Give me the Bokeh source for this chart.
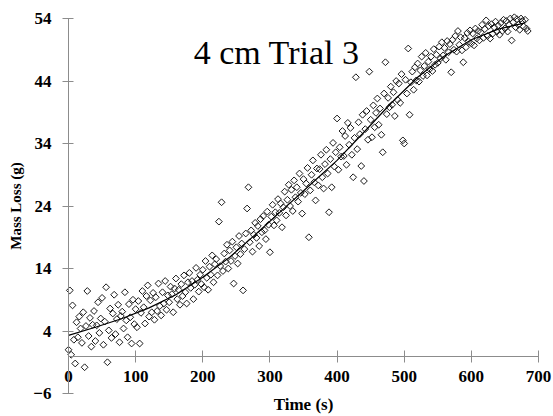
import numpy as np
from bokeh.plotting import figure
from bokeh.models import FixedTicker, Range1d, Label
from bokeh.embed import file_html
from bokeh.resources import INLINE

# Measured mass loss, sampled every 2 s (time in seconds)
time_s = list(range(0, 686, 2))
mass_loss_g = [
    1.0, 10.5, 0.2, 8.1, 2.6,  -1.2, 5.4, 3.0, 6.3, 4.4,
    2.1, 7.0, -1.8, 4.8, 10.4,  3.2, 6.1, 1.5, 5.0, 7.2,
    2.4, 4.9, 8.6, 3.7, 6.0,  9.3, 1.8, 5.5, 11.0, -1.0,
    4.1, 7.6, 2.9, 6.8, 9.8,  3.5, 5.9, 8.2, 2.2, 6.4,
    7.1, 4.4, 10.2, 5.7, 3.0,  8.3, 6.2, 2.0, 9.0, 5.1,
    7.5, 4.6, 8.8, 2.0, 6.9,  10.4, 7.8, 5.2, 9.6, 11.3,
    6.3, 8.9, 7.0, 10.1, 5.8,  9.4, 7.2, 11.6, 8.0, 6.5,
    10.2, 8.4, 12.0, 7.4, 9.7,  8.6, 11.1, 9.9, 7.0, 10.8,
    12.4, 9.1, 10.6, 8.2, 11.5,  9.6, 12.9, 10.2, 8.4, 11.8,
    13.3, 10.9, 12.0, 9.1, 11.4,  14.1, 12.2, 10.3, 13.0, 11.5,
    13.8, 11.0, 15.2, 12.5, 10.6,  14.3, 13.0, 16.1, 11.8, 14.7,
    15.5, 12.9, 21.5, 14.4, 24.6,  13.6, 16.4, 15.1, 17.8, 14.0,
    16.9, 15.2, 18.3, 11.6, 16.0,  17.4, 14.8, 19.2, 16.3, 18.0,
    10.5, 17.1, 19.6, 23.6, 27.0,  18.2, 20.1, 16.7, 19.4, 21.3,
    18.9, 20.8, 17.6, 21.9, 19.8,  22.4, 20.1, 18.7, 23.1, 21.0,
    16.6, 22.3, 24.2, 20.9, 23.0,  21.7, 25.1, 22.9, 24.4, 20.6,
    23.8, 26.3, 22.5, 25.0, 27.4,  24.0, 26.6, 23.2, 28.1, 25.4,
    27.0, 24.7, 29.2, 26.1, 22.8,  28.3, 25.9, 27.6, 30.1, 19.0,
    26.5, 29.0, 31.3, 27.8, 24.9,  30.0, 27.3, 29.9, 32.2, 28.6,
    26.8, 30.7, 33.0, 29.2, 23.0,  31.5, 27.0, 34.1, 30.3, 32.6,
    38.0, 29.8, 33.4, 31.9, 36.0,  32.0, 35.2, 30.6, 37.3, 33.8,
    36.5, 32.2, 28.6, 34.9, 44.6,  33.1, 37.4, 35.5, 30.4, 38.6,
    28.0, 36.3, 39.2, 34.6, 45.5,  37.8, 35.0, 40.1, 36.6, 38.9,
    41.2, 37.0, 39.6, 35.4, 32.6,  42.0, 47.0, 38.7, 41.3, 39.8,
    43.1, 40.2, 42.2, 38.4, 44.0,  41.0, 43.6, 40.5, 45.1, 34.5,
    34.0, 44.2, 42.0, 49.2, 38.6,  43.8, 45.5, 42.6, 46.2, 44.1,
    46.8, 43.9, 45.7, 47.9, 44.8,  46.4, 48.5, 44.9, 47.1, 45.9,
    47.9, 45.6, 49.1, 46.6, 48.2,  46.9, 49.5, 47.6, 50.2, 48.1,
    49.3, 47.4, 50.4, 48.6, 49.9,  45.4, 50.6, 49.0, 51.2, 48.7,
    52.0, 49.8, 51.0, 48.9, 47.0,  50.9, 49.4, 51.7, 50.3, 52.1,
    50.0, 51.6, 49.7, 52.4, 50.8,  52.0, 50.5, 51.8, 53.0, 50.9,
    52.3, 53.7, 51.2, 52.8, 50.8,  53.1, 51.6, 52.6, 53.5, 51.9,
    52.9, 51.4, 53.3, 52.0, 53.8,  52.4, 53.6, 51.9, 53.0, 54.0,
    50.5, 53.4, 54.2, 52.6, 53.9,  53.0, 52.2, 54.0, 53.6, 52.7,
    53.8, 52.4, 52.0,
]

# Fitted trend curve
fit_time_s = [0, 40, 80, 120, 160, 200, 240, 280, 320, 360, 400, 440,
              480, 520, 560, 600, 640, 680]
fit_mass_g = [3.3, 4.6, 6.0, 7.7, 9.8, 12.6, 15.8, 19.6, 23.5, 27.4, 31.3,
              35.8, 40.4, 44.6, 48.0, 50.6, 52.3, 53.3]

x_ticks = [0, 100, 200, 300, 400, 500, 600, 700]
y_ticks = [-6, 4, 14, 24, 34, 44, 54]

title_text = "4 cm Trial 3"

SERIF = "Liberation Serif"
AXIS_GRAY = "#8c8c8c"

# The plotting frame fills the whole canvas; the axes sit at fixed data
# locations (x = 0 and y = 0) and are bounded to the tick span.
W, H = 553, 416
X0_PX, X1_PX = 68, 538      # where t = 0 and t = 700 fall
Y0_PX, Y1_PX = 393, 18      # where -6 g and 54 g fall
x_lo, x_hi = x_ticks[0], x_ticks[-1]
y_lo, y_hi = y_ticks[0], y_ticks[-1]
x_scale = (X1_PX - X0_PX) / (x_hi - x_lo)
y_scale = (Y0_PX - Y1_PX) / (y_hi - y_lo)
x_range = Range1d(x_lo - X0_PX / x_scale, x_hi + (W - X1_PX) / x_scale)
y_range = Range1d(y_lo - (H - Y0_PX) / y_scale, y_hi + Y1_PX / y_scale)

p = figure(width=W, height=H, output_backend="svg", toolbar_location=None,
           x_range=x_range, y_range=y_range,
           min_border_left=0, min_border_right=0,
           min_border_top=0, min_border_bottom=0)
p.outline_line_color = None
p.grid.visible = False
p.background_fill_color = "white"
p.border_fill_color = "white"


def style_axis(axis):
    axis.axis_line_color = AXIS_GRAY
    axis.major_tick_line_color = AXIS_GRAY
    axis.minor_tick_line_color = None
    axis.major_label_text_font = SERIF
    axis.major_label_text_font_style = "bold"
    axis.major_label_text_font_size = "17px"
    axis.major_label_text_color = "black"
    axis.axis_label_text_font = SERIF
    axis.axis_label_text_font_style = "bold"
    axis.axis_label_text_color = "black"


# Mass axis through t = 0
ya = p.yaxis[0]
style_axis(ya)
ya.fixed_location = 0
ya.bounds = (y_lo, y_hi)
ya.ticker = FixedTicker(ticks=y_ticks)
ya.major_tick_in = 5
ya.major_tick_out = 6
ya.major_label_standoff = 11
ya.axis_label = "Mass Loss (g)"
ya.axis_label_text_font_size = "15px"
ya.axis_label_standoff = 6

# Time axis through zero mass loss
xa = p.xaxis[0]
style_axis(xa)
xa.fixed_location = 0
xa.bounds = (x_lo, x_hi)
xa.ticker = FixedTicker(ticks=x_ticks)
xa.major_tick_in = 6
xa.major_tick_out = 6
xa.major_label_standoff = 9
xa.axis_label = "Time (s)"
xa.axis_label_text_font_size = "17px"
xa.axis_label_standoff = 9

# Measurements and fitted curve
p.scatter(x=time_s, y=mass_loss_g, marker="square", angle=np.pi / 4, size=4.8,
          fill_color=None, line_color="#1a1a1a", line_width=1)
p.line(x=fit_time_s, y=fit_mass_g, line_color="black", line_width=1.2)

p.add_layout(Label(x=310, y=48.6, text=title_text, text_font=SERIF,
                   text_font_size="34px", text_align="center",
                   text_baseline="alphabetic", text_color="black"))

open("out.html", "w").write(file_html(p, INLINE))
